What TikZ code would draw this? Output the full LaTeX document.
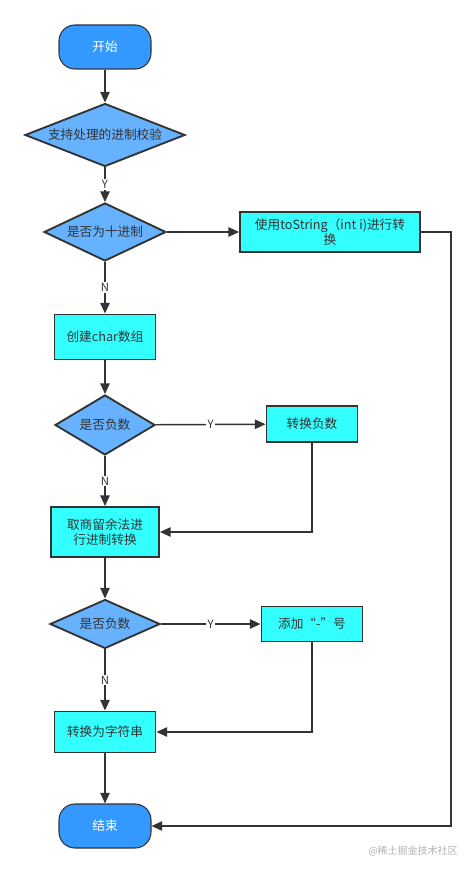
\documentclass[tikz,border=0pt]{standalone}
\usepackage{fontspec}
\setmainfont{Noto Sans CJK SC}
\usetikzlibrary{shapes.geometric, arrows.meta}
\definecolor{termblue}{RGB}{51,153,255}
\definecolor{decblue}{RGB}{102,178,255}
\definecolor{boxcyan}{RGB}{51,255,255}
\definecolor{linegray}{RGB}{51,51,51}

\begin{document}
\begin{tikzpicture}[x=0.75pt, y=-0.75pt, font=\fontsize{9.5}{11.5}\selectfont,
  term/.style={draw=linegray, line width=0.8pt, fill=termblue, text=white, rounded corners=12pt, minimum width=69pt, minimum height=33pt},
  decision/.style={diamond, draw=linegray, line width=1.4pt, fill=decblue, text=linegray, inner sep=0pt},
  proc/.style={draw=linegray, line width=1.4pt, fill=boxcyan, text=linegray, align=center, inner sep=0pt},
  flow/.style={draw=linegray, line width=1.1pt, -{Triangle[length=8pt,width=7pt]}},
  lbl/.style={fill=white, inner sep=1pt, font=\fontsize{8.5}{9}\selectfont, text=linegray}]
\useasboundingbox (0,0) rectangle (474,873);

\node[term] (start) at (105,47) {开始};
\node[decision, aspect=2.54, minimum width=120pt, minimum height=47.25pt] (check) at (105,135) {支持处理的进制校验};
\node[decision, aspect=2.1, minimum width=91.5pt, minimum height=43.5pt] (isdec) at (105,232) {是否为十进制};
\node[proc, minimum width=135pt, minimum height=30pt] (tostr) at (330,232) {使用toString（int i)进行转\\换};
\node[proc, minimum width=75.75pt, minimum height=33.75pt] (chars) at (105,337) {创建char数组};
\node[decision, aspect=1.67, minimum width=75pt, minimum height=45pt] (isneg) at (105,425) {是否负数};
\node[proc, minimum width=68.25pt, minimum height=27pt] (neg) at (312,424) {转换负数};
\node[proc, minimum width=81pt, minimum height=37.5pt] (divide) at (105,532) {取商留余法进\\行进制转换};
\node[decision, aspect=2.24, minimum width=82.5pt, minimum height=36.75pt] (isneg2) at (105,624) {是否负数};
\node[proc, minimum width=75.75pt, minimum height=26.25pt] (minus) at (312,624) {添加“-”号};
\node[proc, minimum width=75.75pt, minimum height=30.75pt] (tostrg) at (105,732) {转换为字符串};
\node[term] (stop) at (105,826) {结束};

\node[text=gray!60, font=\fontsize{7.5}{9}\selectfont] (mark) at (413,851) {@稀土掘金技术社区};

% main line
\draw[flow] (start) -- (check);
\draw[flow] (check) -- node[lbl] {Y} (isdec);
\draw[flow] (isdec) -- (tostr);
\draw[flow] (isdec) -- node[lbl] {N} (chars);
\draw[flow] (chars) -- (isneg);
\draw[flow] (isneg) -- node[lbl] {Y} (neg);
\draw[flow] (isneg) -- node[lbl] {N} (divide);
\draw[flow] (divide) -- (isneg2);
\draw[flow] (isneg2) -- node[lbl] {Y} (minus);
\draw[flow] (isneg2) -- node[lbl] {N} (tostrg);
\draw[flow] (tostrg) -- (stop);

% back lines
\draw[flow] (neg.south) |- (divide.east);
\draw[flow] (minus.south) |- (tostrg.east);
\draw[flow] (tostr.east) -- ++(30,0) |- (stop.east);
\end{tikzpicture}
\end{document}
